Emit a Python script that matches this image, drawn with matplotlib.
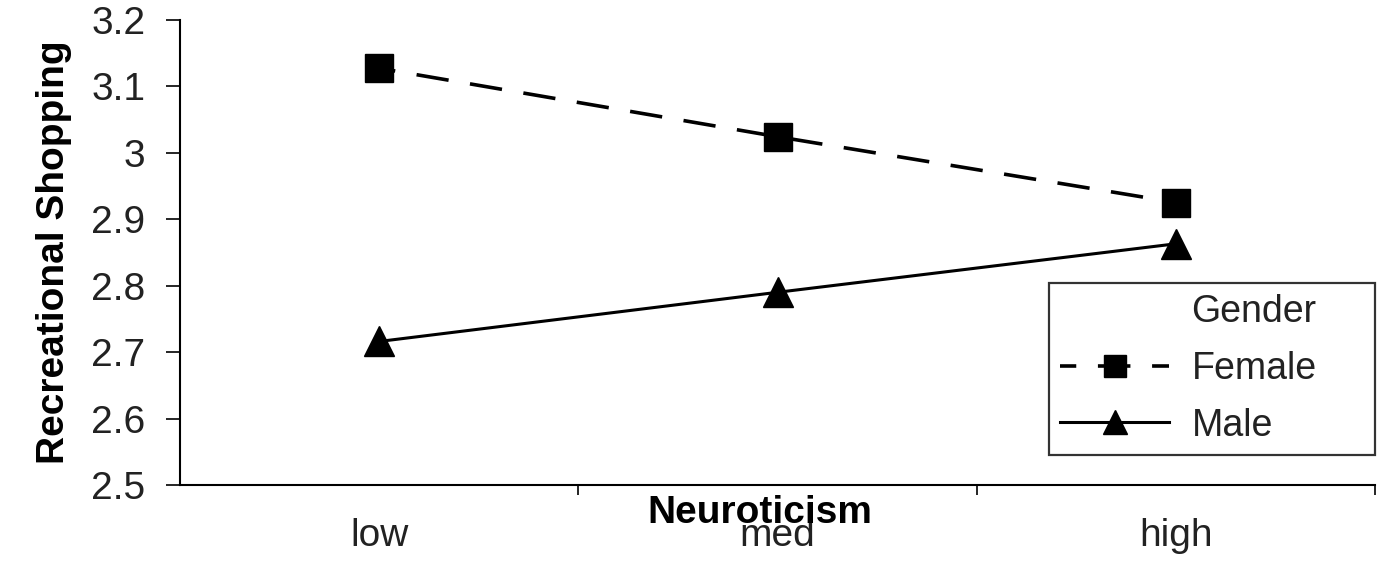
import matplotlib
matplotlib.use("Agg")
import matplotlib.pyplot as plt
from matplotlib.lines import Line2D
from matplotlib.ticker import FixedLocator

plt.rcParams["font.family"] = ["Liberation Sans", "DejaVu Sans"]

# 데이터
categories = ["low", "med", "high"]
female = [3.127, 3.024, 2.925]
male = [2.716, 2.790, 2.863]
y_ticks = [2.5, 2.6, 2.7, 2.8, 2.9, 3.0, 3.1, 3.2]
y_tick_labels = ["2.5", "2.6", "2.7", "2.8", "2.9", "3", "3.1", "3.2"]

fig = plt.figure(figsize=(13.95, 5.64), dpi=100)
ax = fig.add_axes([0.129, 0.140, 0.857, 0.825])

x = list(range(len(categories)))
l_f, = ax.plot(x, female, color="black", linewidth=2.6, linestyle=(4.5, (9, 6)),
               marker="s", markersize=20, label="Female")
l_m, = ax.plot(x, male, color="black", linewidth=2.2, linestyle="-",
               marker="^", markersize=22, label="Male")

ax.set_xlim(-0.5, 2.5)
ax.set_ylim(2.5, 3.2)
ax.set_yticks(y_ticks)
ax.set_yticklabels(y_tick_labels)
ax.set_xticks(x)
ax.set_xticklabels(categories)
ax.xaxis.set_minor_locator(FixedLocator([0.5, 1.5, 2.5]))

ax.tick_params(axis="y", direction="out", length=10, width=1.2, labelsize=28,
               pad=15, labelcolor="#222222")
ax.tick_params(axis="x", which="major", length=0, labelsize=28, pad=24,
               labelcolor="#222222")
ax.tick_params(axis="x", which="minor", direction="out", length=7, width=1.2)

ax.spines["top"].set_visible(False)
ax.spines["right"].set_visible(False)
ax.spines["left"].set_linewidth(1.5)
ax.spines["bottom"].set_linewidth(1.5)

ax.set_ylabel("Recreational Shopping", fontsize=28, fontweight="bold", labelpad=14)
ax.text(0.485, -0.06, "Neuroticism", transform=ax.transAxes, fontsize=28,
        fontweight="bold", ha="center", va="center")

# 범례: 제목 행은 빈 핸들로
title_handle = Line2D([], [], linestyle="none")
leg = ax.legend([title_handle, l_f, l_m], ["Gender", "Female", "Male"],
                loc="upper left", bbox_to_anchor=(0.727, 0.0, 0.273, 0.434),
                mode="expand", fontsize=27, handlelength=2.9, handletextpad=0.6,
                markerscale=0.78, frameon=True, fancybox=False, borderaxespad=0,
                borderpad=0.3, labelspacing=0.55)
leg.get_frame().set_edgecolor("black")
leg.get_frame().set_linewidth(1.6)
for t in leg.get_texts():
    t.set_color("#222222")

fig.savefig("out.png", dpi=100)
